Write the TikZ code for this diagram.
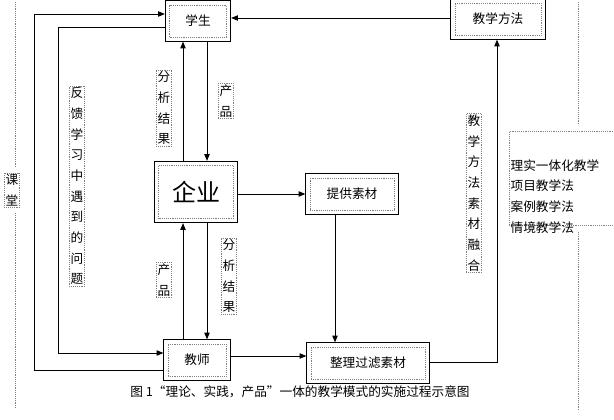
\documentclass[tikz,border=0pt]{standalone}
\usepackage{fontspec}
\setmainfont{Noto Sans CJK SC}
\usetikzlibrary{arrows.meta}
\begin{document}
\begin{tikzpicture}[x=0.75pt,y=-0.75pt,font=\fontsize{9.5}{15.5}\selectfont]

  % Definitions
  \tikzstyle{Box} = [rectangle, draw=black, semithick, inner sep=3pt]
  \tikzstyle{Tag} = [rectangle, draw=gray, densely dotted, inner sep=1pt, align=center]
  \tikzstyle{arrow} = [semithick,-{Triangle[length=5pt,width=4pt]}]
  \tikzstyle{Bar} = [gray, densely dotted]

  \useasboundingbox (0,0) rectangle (614,420);

  \node (St) [Box, minimum width=57*0.75pt, minimum height=32*0.75pt] at (198,21) {\tikz\node[Tag,inner xsep=3pt]{学生};};
  \node (Me) [Box, minimum width=86*0.75pt, minimum height=32*0.75pt] at (498,19) {\tikz\node[Tag,inner xsep=3pt]{教学方法};};
  \node (Co) [Box, minimum width=75*0.75pt, minimum height=53*0.75pt] at (196,192) {\tikz\node[Tag,inner xsep=3pt,font=\fontsize{18}{20}\selectfont]{企业};};
  \node (Pr) [Box, minimum width=84*0.75pt, minimum height=32*0.75pt] at (352,194) {\tikz\node[Tag,inner xsep=3pt]{提供素材};};
  \node (Te) [Box, minimum width=58*0.75pt, minimum height=32*0.75pt] at (197,360) {\tikz\node[Tag,inner xsep=3pt]{教师};};
  \node (Fi) [Box, minimum width=114*0.75pt, minimum height=32*0.75pt] at (368,363) {\tikz\node[Tag,inner xsep=3pt]{整理过滤素材};};

  \coordinate (a1) at (34,370);  \coordinate (a2) at (34,14);
  \coordinate (b1) at (58,27);   \coordinate (b2) at (58,353);
  \coordinate (c1) at (497,362);

  \draw [arrow] (Te.west |- a1) -- (a1) -- (a2) -- (St.west |- a2);
  \draw [arrow] (St.west |- b1) -- (b1) -- (b2) -- (Te.west |- b2);
  \draw [arrow] (St.south -| 207,0) -- (Co.north -| 207,0);
  \draw [arrow] (Co.north -| 183,0) -- (St.south -| 183,0);
  \draw [arrow] (Co.south -| 207,0) -- (Te.north -| 207,0);
  \draw [arrow] (Te.north -| 183,0) -- (Co.south -| 183,0);
  \draw [arrow] (Co.east |- Pr) -- (Pr.west);
  \draw [arrow] (Pr.south -| 335,0) -- (Fi.north -| 335,0);
  \draw [arrow] (Te.east |- 0,356) -- (Fi.west |- 0,356);
  \draw [arrow] (Fi.east |- c1) -- (c1) -- (Me.south -| c1);
  \draw [arrow] (Me.west |- 0,18) -- (St.east |- 0,18);

  \node (L1) [Tag] at (164,108) {分\\析\\结\\果};
  \node (L2) [Tag] at (226,101) {产\\品};
  \node (L3) [Tag] at (77,186) {反\\馈\\学\\习\\中\\遇\\到\\的\\问\\题};
  \node (L4) [Tag] at (164,280) {产\\品};
  \node (L5) [Tag] at (229,276) {分\\析\\结\\果};
  \node (L6) [Tag] at (474,193) {教\\学\\方\\法\\素\\材\\融\\合};
  \node (L7) [Tag] at (12,190) {课\\堂};
  \node (L8) [Tag, align=left, text width=102*0.75pt, minimum height=94*0.75pt, anchor=north west, text depth=20pt] at (509,131) {理实一体化教学\\项目教学法\\案例教学法\\情境教学法};

  \draw [Bar] (15,2) -- (15,168);
  \draw [Bar] (15,213) -- (15,408);
  \draw [Bar] (578,2) -- (578,124);
  \draw [Bar] (578,232) -- (578,410);

  \node (Cap) at (300,392) {图 1“理论、实践，产品”一体的教学模式的实施过程示意图};

\end{tikzpicture}
\end{document}
